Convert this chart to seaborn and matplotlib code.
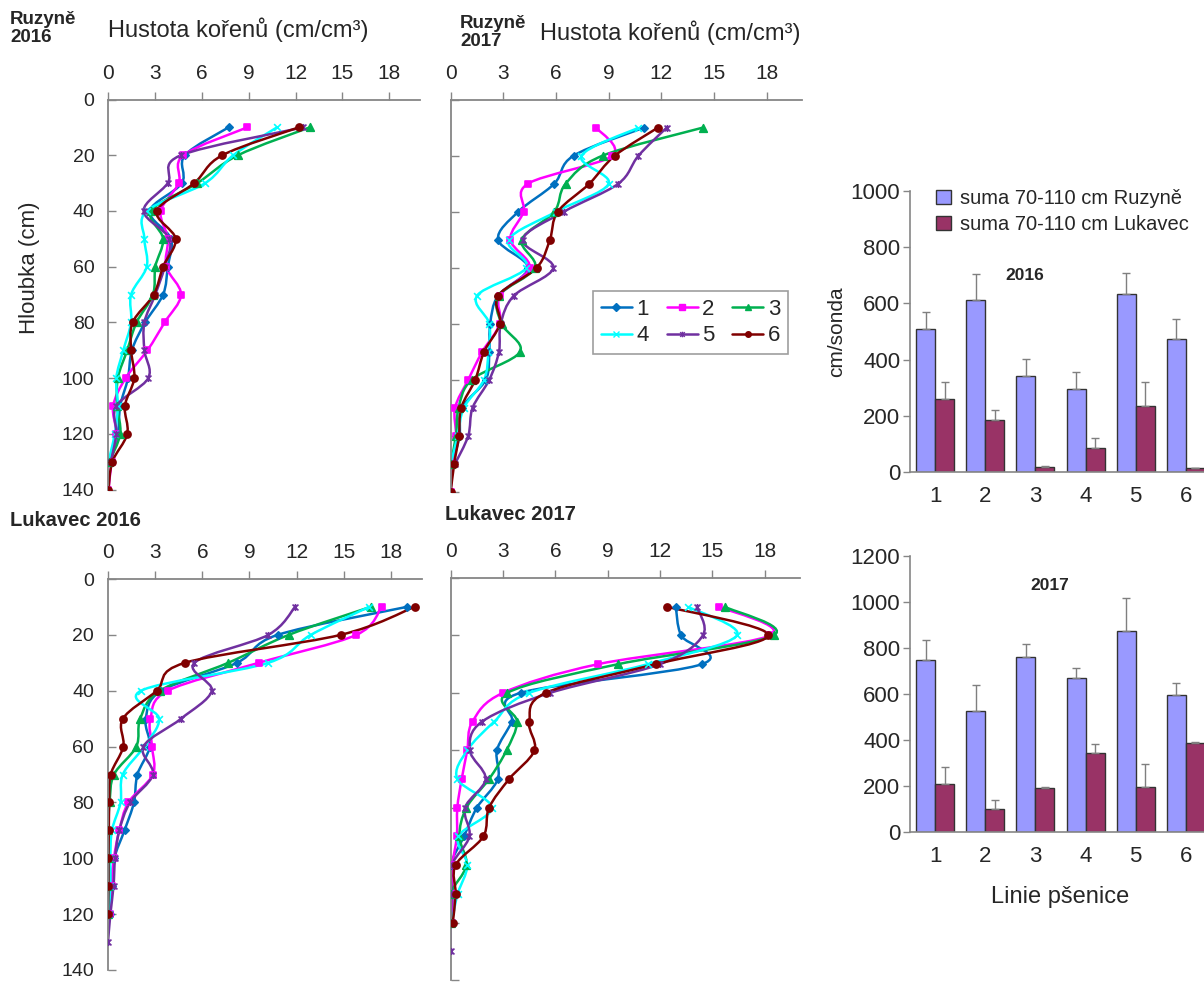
import numpy as np
import pandas as pd
import matplotlib
matplotlib.use('Agg')
import matplotlib.pyplot as plt
from matplotlib.path import Path
from matplotlib.patches import PathPatch
from matplotlib.lines import Line2D
import seaborn as sns

# --- data: root density (cm/cm3) per wheat line, depths 10..140 cm ---
depth = [10, 20, 30, 40, 50, 60, 70, 80, 90, 100, 110, 120, 130, 140]
lines = ['1', '2', '3', '4', '5', '6']

ruz16 = [
    [7.7, 4.9, 4.7, 2.65, 4.0, 3.8, 3.5, 2.35, 1.5, 1.25, 0.75, 0.6, 0.1],
    [8.9, 4.8, 4.5, 3.35, 3.8, 3.7, 4.65, 3.6, 2.5, 1.1, 0.3, 0.5, 0.2, 0.0],
    [12.9, 8.3, 5.7, 2.75, 3.5, 3.0, 2.85, 1.8, 1.2, 0.6, 0.55, 0.75, 0.05],
    [10.8, 8.0, 6.2, 2.45, 2.3, 2.45, 1.45, 1.45, 0.95, 0.5, 0.6, 0.4, 0.0],
    [12.5, 4.65, 3.8, 2.25, 3.9, 3.6, 3.0, 2.3, 2.3, 2.55, 0.5, 0.5, 0.15],
    [12.2, 7.3, 5.5, 3.1, 4.3, 3.5, 2.9, 1.55, 1.45, 1.65, 1.05, 1.2, 0.25, 0.0],
]
ruz17 = [
    [11.0, 7.0, 5.9, 3.85, 2.7, 4.4, 2.7, 2.25, 2.2, 2.0, 0.65, 0.5, 0.1],
    [8.3, 9.2, 4.4, 4.15, 3.4, 4.5, 2.8, 2.8, 1.8, 1.0, 0.25, 0.3, 0.1, 0.0],
    [14.35, 8.65, 6.55, 5.9, 4.05, 4.8, 2.75, 2.9, 3.95, 1.2, 0.45, 0.3, 0.0],
    [10.7, 7.45, 9.0, 6.0, 3.3, 4.3, 1.5, 2.2, 2.15, 1.9, 0.75, 0.4, 0.0],
    [12.3, 10.7, 9.55, 6.45, 4.1, 5.85, 3.6, 2.85, 2.75, 2.2, 1.25, 1.0, 0.25],
    [11.8, 9.35, 7.9, 6.1, 5.65, 4.9, 2.7, 2.8, 1.9, 1.4, 0.6, 0.47, 0.2, 0.0],
]
luk16 = [
    [19.0, 10.8, 8.2, 3.4, 2.4, 2.65, 1.87, 1.65, 1.05, 0.4, 0.25, 0.1],
    [17.4, 15.8, 9.6, 3.8, 2.7, 2.8, 2.85, 1.3, 0.72, 0.38, 0.25, 0.1],
    [16.7, 11.5, 7.65, 3.3, 2.05, 1.8, 0.38, 0.1, 0.0, 0.05, 0.0, 0.0],
    [16.6, 12.9, 10.2, 2.1, 3.25, 2.3, 0.94, 0.8, 0.25, 0.15, 0.15, 0.05],
    [11.9, 10.2, 5.5, 6.6, 4.65, 2.25, 2.85, 1.4, 0.72, 0.45, 0.35, 0.15, 0.0],
    [19.5, 14.8, 4.9, 3.1, 0.95, 0.97, 0.17, 0.08, 0.05, 0.03, 0.03, 0.0],
]
luk17 = [
    [12.9, 13.2, 14.4, 4.0, 3.5, 2.65, 2.7, 1.5, 0.76, 0.0, 0.1, 0.05],
    [15.4, 18.3, 8.45, 3.0, 1.25, 0.95, 0.63, 0.38, 0.35, 0.1, 0.1, 0.05],
    [15.7, 18.5, 9.6, 3.25, 3.8, 3.2, 2.2, 0.9, 0.5, 0.9, 0.0, 0.0],
    [13.6, 16.4, 11.3, 4.5, 2.5, 0.95, 0.38, 2.35, 0.44, 0.95, 0.4, 0.05],
    [14.1, 14.45, 12.0, 5.7, 1.8, 1.1, 2.0, 0.82, 1.07, 0.07, 0.05, 0.0, 0.0],
    [12.4, 18.2, 11.75, 5.45, 4.5, 4.8, 3.35, 2.2, 1.87, 0.28, 0.28, 0.12],
]

# --- data: sum 70-110 cm (cm/sonda) with upper error ---
bar_labels = ['suma 70-110 cm Ruzyně', 'suma 70-110 cm Lukavec']
sum16_ruz = [507, 612, 343, 295, 633, 473]
err16_ruz = [63, 91, 58, 60, 73, 70]
sum16_luk = [260, 186, 18, 87, 235, 14]
err16_luk = [62, 35, 5, 34, 84, 3]
sum17_ruz = [748, 526, 763, 671, 875, 596]
err17_ruz = [88, 114, 55, 44, 142, 51]
sum17_luk = [208, 98, 189, 342, 193, 385]
err17_luk = [73, 40, 7, 40, 101, 7]

# Excel-like star marker: an x with a vertical bar
star = Path([(-1, -1), (1, 1), (-1, 1), (1, -1), (0, -1.2), (0, 1.2)],
            [Path.MOVETO, Path.LINETO, Path.MOVETO, Path.LINETO, Path.MOVETO, Path.LINETO])

colors = ['#0070C0', '#FF00FF', '#00B050', '#00FFFF', '#7030A0', '#800000']
markers = ['D', 's', '^', 'x', star, 'o']
msize = [14, 22, 30, 24, 26, 26]
bar_colors = ['#9999FF', '#993366']
grey = '#868686'

sns.set_style('white')
plt.rcParams['font.family'] = ['Liberation Sans', 'DejaVu Sans']

W, H = 1204, 983
fig = plt.figure(figsize=(W / 100, H / 100), dpi=100)


def px_axes(left, top, right, bottom):
    return fig.add_axes([left / W, 1 - bottom / H, (right - left) / W, (bottom - top) / H])


def smooth_path(x, y):
    # smoothed line like in Excel (Catmull-Rom as cubic Bezier)
    pts = np.column_stack([x, y]).astype(float)
    n = len(pts)
    verts = [pts[0]]
    codes = [Path.MOVETO]
    for i in range(n - 1):
        p0 = pts[i - 1] if i > 0 else pts[i]
        p1, p2 = pts[i], pts[i + 1]
        p3 = pts[i + 2] if i + 2 < n else pts[i + 1]
        verts += [p1 + (p2 - p0) / 6, p2 - (p3 - p1) / 6, p2]
        codes += [Path.CURVE4] * 3
    return Path(verts, codes)


def to_long(values):
    rows = []
    for name, vals in zip(lines, values):
        for d, v in zip(depth, vals):
            rows.append({'linie': name, 'hloubka': d, 'hustota': v})
    return pd.DataFrame(rows)


def depth_panel(ax, values, ylabels=True):
    df = to_long(values)
    for i, name in enumerate(lines):
        sub = df[df['linie'] == name]
        ax.add_patch(PathPatch(smooth_path(sub['hustota'], sub['hloubka']),
                               fill=False, edgecolor=colors[i], lw=1.8, zorder=2))
        kw = dict(edgecolor=colors[i]) if i != 3 else {}
        sns.scatterplot(data=sub, x='hustota', y='hloubka', marker=markers[i],
                        color=colors[i], s=msize[i], linewidth=1.2, ax=ax,
                        zorder=3, legend=False, **kw)
    ax.set_xlim(0, 20)
    ax.set_ylim(140, 0)
    ax.xaxis.tick_top()
    ax.set_xticks(range(0, 19, 3))
    ax.set_yticks(range(0, 141, 20))
    ax.set_xlabel('')
    ax.set_ylabel('')
    for s in ['right', 'bottom']:
        ax.spines[s].set_visible(False)
    for s in ['left', 'top']:
        ax.spines[s].set_color(grey)
        ax.spines[s].set_linewidth(1.3)
    ax.tick_params(axis='x', direction='out', length=6, width=1, color=grey,
                   labelsize=15, pad=6, top=True, bottom=False)
    ax.tick_params(axis='y', direction='in', length=6, width=1, color=grey,
                   labelsize=14, pad=10, left=True, labelleft=ylabels)


ax1 = px_axes(108.5, 99.5, 420.5, 489.5)
ax2 = px_axes(450.7, 99.7, 801.7, 491.7)
ax3 = px_axes(108, 579, 422.4, 970)
ax4 = px_axes(450.7, 578, 799.7, 980)
depth_panel(ax1, ruz16)
depth_panel(ax2, ruz17, ylabels=False)
depth_panel(ax3, luk16)
depth_panel(ax4, luk17, ylabels=False)

handles = [Line2D([0], [0], color=c, lw=1.8, marker=m, markersize=4,
                  markeredgecolor=c, markerfacecolor=c)
           for c, m in zip(colors, markers)]
# rows 1 2 3 / 4 5 6 (legend fills column by column)
order = [0, 3, 1, 4, 2, 5]
leg = ax2.legend([handles[k] for k in order], [lines[k] for k in order], ncol=3,
                 loc='upper left', bbox_to_anchor=(593 / W, 1 - 291 / H),
                 bbox_transform=fig.transFigure, fontsize=16, frameon=True,
                 fancybox=False, handlelength=1.4, handletextpad=0.2,
                 columnspacing=0.8, borderaxespad=0, labelspacing=0.25, borderpad=0.35)
leg.get_frame().set_edgecolor(grey)
leg.get_frame().set_linewidth(1.2)

fig.text(10 / W, 1 - 11 / H, 'Ruzyně\n2016', fontsize=13.5, fontweight='bold',
         va='top', ha='left', linespacing=1.05)
fig.text(460 / W, 1 - 15 / H, 'Ruzyně\n2017', fontsize=13.5, fontweight='bold',
         va='top', ha='left', linespacing=1.05)
fig.text(108 / W, 1 - 30 / H, 'Hustota kořenů (cm/cm³)', fontsize=17, va='center', ha='left')
fig.text(540 / W, 1 - 33 / H, 'Hustota kořenů (cm/cm³)', fontsize=17, va='center', ha='left')
fig.text(10 / W, 1 - 520 / H, 'Lukavec 2016', fontsize=14.5, fontweight='bold', va='center', ha='left')
fig.text(445 / W, 1 - 515 / H, 'Lukavec 2017', fontsize=14.5, fontweight='bold', va='center', ha='left')
fig.text(30 / W, 1 - 268 / H, 'Hloubka (cm)', fontsize=16, rotation=90, va='center', ha='center')


def bar_panel(ax, ruz, ruz_err, luk, luk_err, ymax):
    df = pd.DataFrame({'linie': lines * 2, 'suma': ruz + luk,
                       'lokalita': [bar_labels[0]] * 6 + [bar_labels[1]] * 6})
    sns.barplot(data=df, x='linie', y='suma', hue='lokalita', palette=bar_colors,
                saturation=1, width=0.76, edgecolor='#333333', linewidth=1,
                errorbar=None, ax=ax)
    for cont, errs in zip(ax.containers, [ruz_err, luk_err]):
        xs = [b.get_x() + b.get_width() / 2 for b in cont]
        ys = [b.get_height() for b in cont]
        ax.errorbar(xs, ys, yerr=[np.zeros(len(errs)), errs], fmt='none',
                    ecolor='#7f7f7f', elinewidth=1, capsize=3, capthick=1, zorder=1)
    ax.set_xlim(-0.5, 5.5)
    ax.set_ylim(0, ymax)
    ax.set_yticks(range(0, ymax + 1, 200))
    ax.set_xticks(np.arange(-0.5, 6, 1), minor=True)
    ax.set_xlabel('')
    ax.set_ylabel('')
    for s in ['right', 'top']:
        ax.spines[s].set_visible(False)
    for s in ['left', 'bottom']:
        ax.spines[s].set_color(grey)
        ax.spines[s].set_linewidth(1.2)
    ax.tick_params(axis='x', which='major', length=0, labelsize=16, pad=10)
    ax.tick_params(axis='x', which='minor', length=7, width=1, color=grey, direction='out')
    ax.tick_params(axis='y', length=5, width=1, color=grey, direction='out',
                   labelsize=16, pad=2, left=True)


axb1 = px_axes(910, 190.6, 1211, 472.3)
axb2 = px_axes(910, 556.4, 1211, 831.7)
bar_panel(axb1, sum16_ruz, err16_ruz, sum16_luk, err16_luk, 1000)
bar_panel(axb2, sum17_ruz, err17_ruz, sum17_luk, err17_luk, 1200)

axb2.get_legend().remove()
axb1.legend(loc='upper left', bbox_to_anchor=(928 / W, 1 - 181 / H),
            bbox_transform=fig.transFigure, frameon=False, fontsize=14.5,
            handlelength=0.75, handleheight=0.75, handletextpad=0.45,
            labelspacing=0.35, borderaxespad=0)
axb1.set_ylabel('cm/sonda', fontsize=15, labelpad=3)
axb2.set_xlabel('Linie pšenice', fontsize=17, labelpad=14)
fig.text(1025 / W, 1 - 276 / H, '2016', fontsize=12.5, fontweight='bold', ha='center', va='center')
fig.text(1050 / W, 1 - 585 / H, '2017', fontsize=12.5, fontweight='bold', ha='center', va='center')

fig.savefig('out.png', dpi=100)
